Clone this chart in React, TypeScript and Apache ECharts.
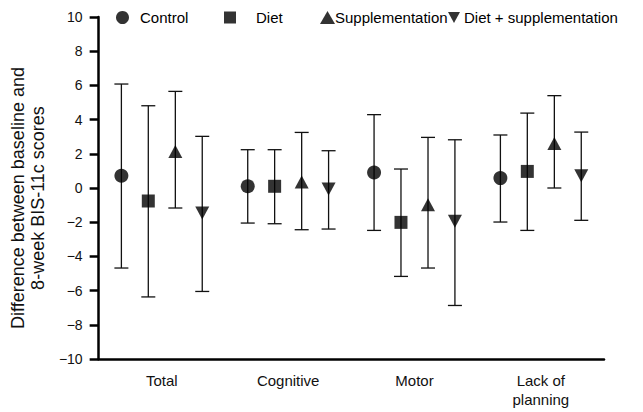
import React, { useEffect, useRef } from "react";
import * as echarts from "echarts";

const categories = ["Total", "Cognitive", "Motor", "Lack of\nplanning"];
const yTicks = { min: -10, max: 10, interval: 2 };

const controlMean = [0.72, 0.1, 0.91, 0.58];
const controlUpper = [6.08, 2.24, 4.29, 3.1];
const controlLower = [-4.68, -2.05, -2.48, -1.99];

const dietMean = [-0.76, 0.1, -2.01, 0.97];
const dietUpper = [4.81, 2.24, 1.11, 4.38];
const dietLower = [-6.37, -2.09, -5.17, -2.48];

const suppMean = [2.14, 0.35, -0.98, 2.6];
const suppUpper = [5.65, 3.25, 2.96, 5.4];
const suppLower = [-1.17, -2.44, -4.68, 0.0];

const dsMean = [-1.46, -0.06, -1.95, 0.72];
const dsUpper = [3.02, 2.18, 2.82, 3.27];
const dsLower = [-6.05, -2.4, -6.87, -1.89];

const seriesNames = ["Control", "Diet", "Supplementation", "Diet + supplementation"];

const DOWN_TRI = "path://M0,0L10,0L5,9Z";
const FONT = "'Liberation Sans', Arial, Helvetica, sans-serif";

export default function App() {
  const ref = useRef<HTMLDivElement>(null);

  useEffect(() => {
    document.body.style.margin = "0";
    if (!ref.current) return;
    const chart = echarts.init(ref.current, undefined, { renderer: "svg" });

    const groups = [
      { mean: controlMean, upper: controlUpper, lower: controlLower },
      { mean: dietMean, upper: dietUpper, lower: dietLower },
      { mean: suppMean, upper: suppUpper, lower: suppLower },
      { mean: dsMean, upper: dsUpper, lower: dsLower },
    ];
    const offsets = [-0.32, -0.107, 0.107, 0.32];
    const symbols = ["circle", "rect", "triangle", DOWN_TRI];
    const symbolSizes: any[] = [14, 13, [14, 13], [14, 13]];

    const series: any[] = [];
    groups.forEach((g, k) => {
      series.push({
        name: seriesNames[k] + " SD",
        type: "custom",
        xAxisIndex: 1,
        yAxisIndex: 0,
        z: 2,
        silent: true,
        data: g.mean.map((_, i) => [i + offsets[k], g.lower[i], g.upper[i]]),
        renderItem: (params: any, api: any) => {
          const x = api.value(0);
          const lo = api.coord([x, api.value(1)]);
          const hi = api.coord([x, api.value(2)]);
          const hw = 7;
          const style = { stroke: "#111", lineWidth: 1.3 };
          return {
            type: "group",
            children: [
              { type: "line", shape: { x1: lo[0], y1: lo[1], x2: hi[0], y2: hi[1] }, style },
              { type: "line", shape: { x1: lo[0] - hw, y1: lo[1], x2: lo[0] + hw, y2: lo[1] }, style },
              { type: "line", shape: { x1: hi[0] - hw, y1: hi[1], x2: hi[0] + hw, y2: hi[1] }, style },
            ],
          };
        },
      });
      series.push({
        name: seriesNames[k],
        type: "scatter",
        xAxisIndex: 1,
        yAxisIndex: 0,
        z: 5,
        symbol: symbols[k],
        symbolSize: symbolSizes[k],
        itemStyle: { color: "#000" },
        data: g.mean.map((v, i) => [i + offsets[k], v]),
      });
    });

    const legendDefs = [
      { left: 116, icon: "circle", w: 13, h: 13, pad: 6 },
      { left: 224, icon: "rect", w: 12, h: 12, pad: 15 },
      { left: 320, icon: "triangle", w: 15, h: 13, pad: -5 },
      { left: 448, icon: DOWN_TRI, w: 12, h: 11, pad: -1 },
    ];

    const legend = legendDefs.map((d, k) => ({
      data: [{ name: seriesNames[k], icon: d.icon }],
      left: d.left,
      top: 10,
      itemWidth: d.w,
      itemHeight: d.h,
      itemGap: 0,
      padding: 0,
      selectedMode: false,
      textStyle: {
        fontSize: 15,
        color: "#000",
        fontFamily: FONT,
        padding: [0, 0, 0, d.pad],
      },
    }));

    chart.setOption({
      animation: false,
      backgroundColor: "#fff",
      grid: { left: 92, right: 39, top: 17, bottom: 53, containLabel: false },
      legend,
      xAxis: [
        {
          type: "category",
          data: categories,
          boundaryGap: true,
          axisLine: { onZero: false, lineStyle: { color: "#000", width: 2.5 } },
          axisTick: { alignWithLabel: true, length: 7, lineStyle: { color: "#000", width: 2.5 } },
          axisLabel: {
            color: "#111",
            fontSize: 15,
            fontFamily: FONT,
            margin: 12,
            lineHeight: 19,
          },
          splitLine: { show: false },
        },
        {
          type: "value",
          min: -0.5,
          max: 3.5,
          show: false,
          splitLine: { show: false },
        },
      ],
      yAxis: {
        type: "value",
        min: yTicks.min,
        max: yTicks.max,
        interval: yTicks.interval,
        name: "Difference between baseline and\n8-week BIS-11c scores",
        nameLocation: "middle",
        nameGap: 44,
        nameTextStyle: {
          fontSize: 18,
          lineHeight: 20,
          color: "#111",
          fontFamily: FONT,
          padding: [0, 20, 0, 0],
        },
        axisLine: { show: true, onZero: false, lineStyle: { color: "#000", width: 2.5 } },
        axisTick: { show: true, length: 9, lineStyle: { color: "#000", width: 2.5 } },
        axisLabel: {
          color: "#111",
          fontSize: 14,
          fontFamily: FONT,
          margin: 16,
          formatter: (v: number) => (v < 0 ? "\u2212" + Math.abs(v) : String(v)),
        },
        splitLine: { show: false },
      },
      series,
    });

    return () => chart.dispose();
  }, []);

  return <div ref={ref} style={{ width: 643, height: 412 }} />;
}
